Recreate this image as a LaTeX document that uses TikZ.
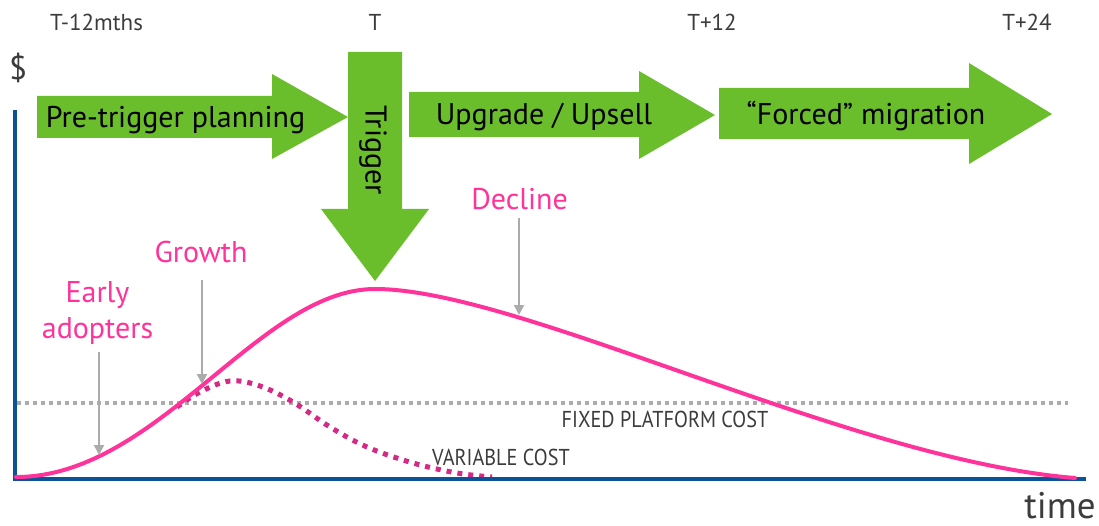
\documentclass[tikz,border=0pt]{standalone}
\usepackage{fontspec}
\setmainfont{PT Sans}
\usetikzlibrary{arrows.meta}
\definecolor{grn}{HTML}{6ABD2B}
\definecolor{pnk}{HTML}{FF3399}
\definecolor{vcol}{HTML}{D42A85}
\definecolor{axb}{HTML}{0B5394}
\definecolor{lgray}{HTML}{ABABAB}
\definecolor{txt}{HTML}{3C3C3C}
\tikzset{
  toplabel/.style={font=\fontsize{23}{27}\selectfont, text=txt, anchor=base, inner sep=0pt},
  arrowlabel/.style={font=\fontsize{30}{36}\selectfont, text=black, anchor=base, inner sep=0pt},
  phaselabel/.style={font=\fontsize{30}{37}\selectfont, text=pnk, anchor=base, inner sep=0pt},
  costlabel/.style={font=\fontsize{23}{27}\selectfont, text=txt, anchor=base, inner sep=0pt, xscale=0.88},
  greenarrow/.style={fill=grn},
  callout/.style={draw=lgray, line width=2pt, -{Triangle[width=10pt,length=10pt]}},
  mainline/.style={draw=pnk, line width=4pt, line cap=round},
  varline/.style={draw=vcol, line width=5pt, dash pattern=on 5pt off 6pt},
  fixline/.style={draw=lgray, line width=3.5pt, dash pattern=on 4pt off 4pt},
  axisline/.style={draw=axb, line width=4pt}
}
\begin{document}
\begin{tikzpicture}[x=1pt,y=-1pt]
\useasboundingbox (0,0) rectangle (1099,526);
\fill[white] (0,0) rectangle (1099,526);

% top labels
\node[toplabel] (tm12) at (96.5,31) {T-12mths};
\node[toplabel] (t0) at (375,31) {T};
\node[toplabel] (tp12) at (712,31) {T+12};
\node[toplabel] (tp24) at (1027,31) {T+24};
\node[font=\fontsize{33}{38}\selectfont, text=txt, anchor=base, inner sep=0pt] (dollar) at (18,80) {\$};

% green arrows
\fill[greenarrow] (37,96) -- (272,96) -- (272,74) -- (348,117) -- (272,159) -- (272,138) -- (37,138) -- cycle;
\fill[greenarrow] (348,52) -- (402,52) -- (402,209) -- (429,209) -- (375,281) -- (321,209) -- (348,209) -- cycle;
\fill[greenarrow] (409,92) -- (639,92) -- (639,71) -- (715,115) -- (639,159) -- (639,137) -- (409,137) -- cycle;
\fill[greenarrow] (719,88) -- (969,88) -- (969,63) -- (1052,114) -- (969,164) -- (969,139) -- (719,139) -- cycle;

\node[arrowlabel] (pre) at (175.5,128) {Pre-trigger planning};
\node[arrowlabel, anchor=center, rotate=-90] (trig) at (373,150) {Trigger};
\node[arrowlabel] (up) at (544,125) {Upgrade / Upsell};
\node[arrowlabel] (forced) at (866,125) {“Forced” migration};

% fixed cost line
\draw[fixline] (17,403) -- (1068,403);

% variable cost
\draw[varline] plot[smooth, tension=0.6] coordinates {(177,407) (200,392) (230,381) (260,386) (293,402) (330,427) (367,447) (413,463) (457,473) (492,477)};

% axes
\draw[axisline] (15,110) -- (15,479) -- (1086,479);

% main curve
\coordinate (c0) at (16,477);
\coordinate (cpeak) at (375,289);
\coordinate (cend) at (1075,478);
\draw[mainline] (c0) .. controls (158,477) and (259,289) .. (cpeak)
                    .. controls (520,289) and (850,460) .. (cend);

% phase labels
\node[phaselabel, align=center, anchor=south] (early) at (97.5,345) {Early\\[-0.5pt]adopters};
\node[phaselabel] (growth) at (201,263) {Growth};
\node[phaselabel] (decline) at (519.5,210) {Decline};

\coordinate (eatip) at (99,455);
\coordinate (grtip) at (202,384);
\coordinate (detip) at (519,315);
\draw[callout] (99,352) -- (eatip);
\draw[callout] (202,280) -- (grtip);
\draw[callout] (519,218) -- (detip);

% cost labels
\node[costlabel] (fixed) at (665,427) {FIXED PLATFORM COST};
\node[costlabel, anchor=base west] (var) at (432,465) {VARIABLE COST};

\node[font=\fontsize{37}{42}\selectfont, text=txt, anchor=base, inner sep=0pt] (time) at (1060,518) {time};
\end{tikzpicture}
\end{document}
